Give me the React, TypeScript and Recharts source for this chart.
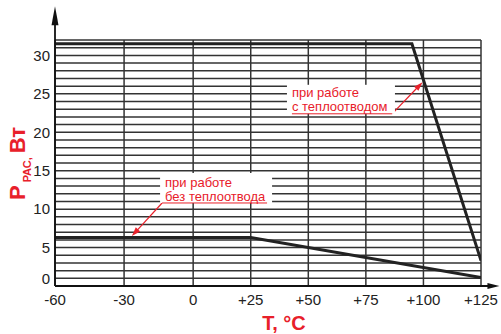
import React from 'react';
import {
  ComposedChart,
  Line,
  XAxis,
  YAxis,
  CartesianGrid,
  ReferenceLine,
  ReferenceDot,
} from 'recharts';

// ---- data ----
const xTicks = [-60, -30, 0, 25, 50, 75, 100, 125];
const yTicks = [0, 5, 10, 15, 20, 25, 30];
const hGridValues = Array.from({ length: 32 }, (_, i) => i + 1);
const vGridValues = [-60, -30, 0, 25, 50, 75, 100, 125];

const tempWithSink = [-60, 95, 125];
const powerWithSink = [31.5, 31.5, 3.3];
const tempNoSink = [-60, 25, 125];
const powerNoSink = [6.3, 6.3, 1.1];

const noteWithSinkLines = ['при работе', 'с теплоотводом'];
const noteNoSinkLines = ['при работе', 'без теплоотвода'];
const noteWithSinkAnchor = [42.9, 22.4];
const noteNoSinkAnchor = [-13.5, 10.8];
const arrowWithSink = [[86.4, 22.4], [99.6, 26.5]];
const arrowNoSink = [[-13.5, 10.8], [-26.6, 6.5]];
const yAxisArrow = [[-60, 0], [-60, 36.4]];
const xAxisArrow = [[-60, 0], [133.0, 0]];

const withSinkData = tempWithSink.map((t, i) => ({ t, p: powerWithSink[i] }));
const noSinkData = tempNoSink.map((t, i) => ({ t, p: powerNoSink[i] }));

const FONT = '"Liberation Sans", Arial, Helvetica, sans-serif';
const RED = '#e8202a';
const INK = '#222';

const arrowShape = (color: string, width: number, headLen: number, headHalf: number) => (props: any) => {
  const { x1, y1, x2, y2 } = props;
  const dx = x2 - x1;
  const dy = y2 - y1;
  const len = Math.hypot(dx, dy) || 1;
  const ux = dx / len;
  const uy = dy / len;
  const bx = x2 - ux * headLen;
  const by = y2 - uy * headLen;
  const px = -uy * headHalf;
  const py = ux * headHalf;
  return (
    <g>
      <line x1={x1} y1={y1} x2={bx + ux * 1} y2={by + uy * 1} stroke={color} strokeWidth={width} />
      <polygon points={`${x2},${y2} ${bx + px},${by + py} ${bx - px},${by - py}`} fill={color} />
    </g>
  );
};

const noteShape = (
  lines: string[],
  box: { left: number; right: number; top: number },
  textX: number,
  baselines: number[],
  underline: [number, number]
) => (props: any) => {
  const { cx, cy } = props;
  return (
    <g>
      <rect x={cx + box.left} y={cy + box.top} width={box.right - box.left} height={-box.top} fill="#fff" />
      {lines.map((s, i) => (
        <text key={i} x={cx + textX} y={cy + baselines[i]} fill={RED} fontSize={13} fontFamily={FONT}>
          {s}
        </text>
      ))}
      <line x1={cx + underline[0]} y1={cy} x2={cx + underline[1]} y2={cy} stroke={RED} strokeWidth={1} />
    </g>
  );
};

const YTick = (props: any) => {
  const { x, y, payload } = props;
  const yy = payload.value === 0 ? y - 7 : y;
  return (
    <text x={x} y={yy} dy="0.355em" textAnchor="end" fill={INK} fontSize={15} fontFamily={FONT}>
      {payload.value}
    </text>
  );
};

const YTitle = (props: any) => {
  const vb = props.viewBox || { x: 0, y: 40 };
  const tx = vb.x + 25;
  const ty = vb.y + 160;
  return (
    <text
      transform={`translate(${tx},${ty}) rotate(-90)`}
      x={0}
      y={0}
      fill={RED}
      fontFamily={FONT}
      fontWeight="bold"
    >
      <tspan fontSize={22}>Р</tspan>
      <tspan fontSize={11} dx={3} dy={6}>РАС,</tspan>
      <tspan fontSize={22} dx={4} dy={-6}>Вт</tspan>
    </text>
  );
};

const XTitle = (props: any) => {
  const vb = props.viewBox || { x: 55, y: 286, width: 426 };
  return (
    <text
      x={vb.x + vb.width / 2 + 16}
      y={vb.y + 44}
      textAnchor="middle"
      fill={RED}
      fontFamily={FONT}
      fontWeight="bold"
      fontSize={20}
    >
      T, °C
    </text>
  );
};

const pt = (a: number[]) => ({ x: a[0], y: a[1] });

export default function App() {
  return (
    <div style={{ position: 'absolute', left: 0, top: 0, width: 501, height: 334, background: '#fff' }}>
      <ComposedChart width={501} height={334} margin={{ top: 40, right: 20, bottom: 18, left: 0 }}>
        <CartesianGrid
          horizontalValues={hGridValues}
          verticalValues={vGridValues}
          stroke="#333"
          strokeWidth={1.5}
        />
        <XAxis
          dataKey="t"
          type="number"
          domain={[-60, 125]}
          ticks={xTicks}
          interval={0}
          allowDataOverflow
          tickFormatter={(v: number) => (v > 0 ? `+${v}` : `${v}`)}
          axisLine={false}
          tickLine={false}
          tickSize={0}
          tickMargin={8}
          height={30}
          tick={{ fill: INK, fontSize: 15, fontFamily: FONT }}
          label={{ content: XTitle }}
        />
        <YAxis
          type="number"
          domain={[0, 32]}
          ticks={yTicks}
          interval={0}
          allowDataOverflow
          axisLine={false}
          tickLine={false}
          tickSize={0}
          tickMargin={5}
          width={55}
          tick={YTick}
          label={{ content: YTitle }}
        />
        <Line
          data={withSinkData}
          dataKey="p"
          type="linear"
          stroke="#222"
          strokeWidth={3}
          dot={false}
          activeDot={false}
          isAnimationActive={false}
        />
        <Line
          data={noSinkData}
          dataKey="p"
          type="linear"
          stroke="#222"
          strokeWidth={3}
          dot={false}
          activeDot={false}
          isAnimationActive={false}
        />
        <ReferenceDot
          x={noteWithSinkAnchor[0]}
          y={noteWithSinkAnchor[1]}
          ifOverflow="visible"
          shape={noteShape(noteWithSinkLines, { left: -5, right: 103, top: -29 }, 0, [-17, -3], [0, 100])}
        />
        <ReferenceDot
          x={noteNoSinkAnchor[0]}
          y={noteNoSinkAnchor[1]}
          ifOverflow="visible"
          shape={noteShape(noteNoSinkLines, { left: -2, right: 110, top: -30 }, 3, [-16, -2], [0, 105])}
        />
        <ReferenceLine
          segment={[pt(arrowWithSink[0]), pt(arrowWithSink[1])]}
          ifOverflow="visible"
          shape={arrowShape(RED, 1.2, 9, 3)}
        />
        <ReferenceLine
          segment={[pt(arrowNoSink[0]), pt(arrowNoSink[1])]}
          ifOverflow="visible"
          shape={arrowShape(RED, 1.2, 9, 3)}
        />
        <ReferenceLine
          segment={[pt(yAxisArrow[0]), pt(yAxisArrow[1])]}
          ifOverflow="visible"
          shape={arrowShape('#111', 1.8, 19, 3.5)}
        />
        <ReferenceLine
          segment={[pt(xAxisArrow[0]), pt(xAxisArrow[1])]}
          ifOverflow="visible"
          shape={arrowShape('#111', 1.8, 12, 3)}
        />
      </ComposedChart>
    </div>
  );
}
